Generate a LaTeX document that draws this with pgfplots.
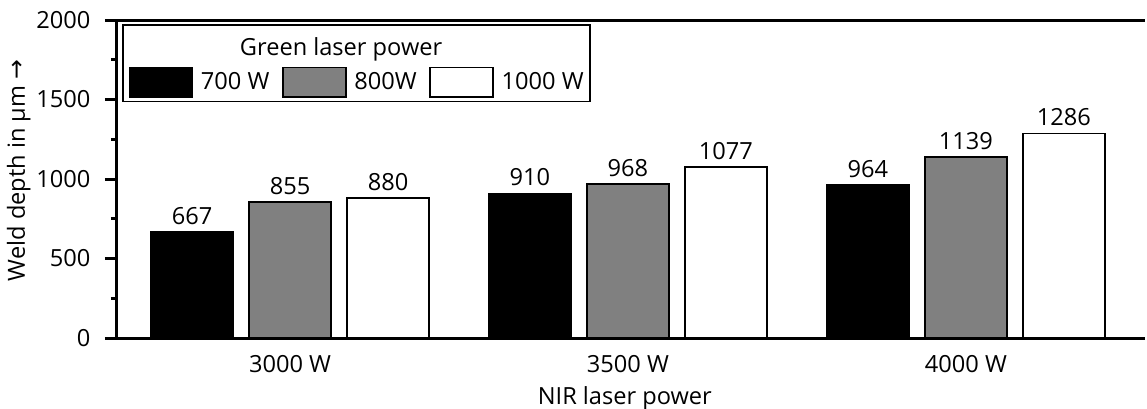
\documentclass[border=0pt]{standalone}
\usepackage{fontspec}
\setmainfont{Open Sans}
\newfontfamily\djv{DejaVu Sans}
\usepackage{pgfplots}
\pgfplotsset{compat=1.18}
\pgfplotsset{
  /pgfplots/myleg/.style={legend image code/.code={\draw[##1,line width=0.8pt] (0pt,-7.4pt) rectangle (31.5pt,7.4pt);}}
}
\begin{document}
\begin{tikzpicture}[font=\fontsize{11.8}{14}\selectfont]
\begin{axis}[
  name=ax,
  scale only axis,
  width=514pt, height=159pt,
  ybar=8pt, bar width=41pt,
  xmin=-0.512, xmax=2.530,
  ymin=0, ymax=2000,
  separate axis lines,
  axis x line*=box,
  axis y line*=left,
  axis line style={line width=1.5pt, -},
  xtick={0,1,2},
  xticklabels={3000 W,3500 W,4000 W},
  x tick style={draw=none},
  xticklabel style={anchor=base, yshift=-11.1pt},
  ytick={0,500,1000,1500,2000},
  minor ytick={250,750,1250,1750},
  tick align=outside,
  y tick style={line width=1.5pt, black},
  major tick length=6pt,
  minor tick length=3pt,
  /pgf/number format/assume math mode=true,
  /pgf/number format/1000 sep={},
  yticklabel style={xshift=-3.8pt},
  xlabel={NIR laser power},
  ylabel={Weld depth in µm {\djv →}},
  xlabel style={at={(axis description cs:0.494,0)}, anchor=base, yshift=-33pt},
  ylabel style={at={(axis description cs:-0.0895,0.527)}, anchor=base, rotate=0},
  nodes near coords,
  nodes near coords style={font=\fontsize{11.8}{14}\selectfont, /pgf/number format/1000 sep={}},
  legend columns=3,
  legend style={at={(axis description cs:0.011,0.8035)}, anchor=west, draw=none, fill=none, inner sep=0pt,
    /tikz/every odd column/.append style={column sep=3.8pt},
    /tikz/every even column/.append style={column sep=6.4pt},
    nodes={inner sep=0pt, font=\fontsize{11.8}{14}\selectfont}},
  clip=false,
]
\addplot[fill=black, draw=black, line width=0.8pt, myleg] coordinates {(0,667) (1,910) (2,964)};
\addlegendentry{700 W}
\addplot[fill=black!50, draw=black, line width=0.8pt, myleg] coordinates {(0,855) (1,968) (2,1139)};
\addlegendentry{800W}
\addplot[fill=white, draw=black, line width=0.8pt, myleg] coordinates {(0,880) (1,1077) (2,1286)};
\addlegendentry{1000 W}
\draw[line width=0.7pt] (rel axis cs:0.00603,0.743) rectangle (rel axis cs:0.4601,0.984);
\node[anchor=base] at (rel axis cs:0.218,0.887) {Green laser power};
\coordinate (bl) at (rel axis cs:0,0);
\coordinate (tr) at (rel axis cs:1,1);
\end{axis}
\pgfresetboundingbox
\useasboundingbox ([shift={(-58.5pt,-35pt)}]bl) rectangle ([shift={(1pt,10pt)}]tr);
\end{tikzpicture}
\end{document}
